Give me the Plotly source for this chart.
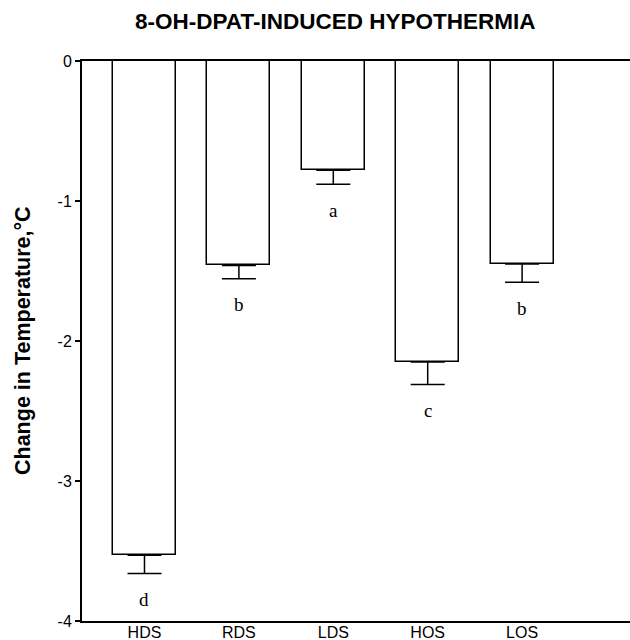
import plotly.graph_objects as go

categories = ["HDS", "RDS", "LDS", "HOS", "LOS"]
means = [-3.53, -1.46, -0.78, -2.15, -1.45]
sem = [0.13, 0.095, 0.10, 0.16, 0.13]
letters = ["d", "b", "a", "c", "b"]
ytick_vals = [0, -1, -2, -3, -4]
ytick_text = ["0", "-1", "-2", "-3", "-4"]

xpos = list(range(len(categories)))

fig = go.Figure()
fig.add_trace(go.Bar(
    x=xpos, y=means, width=0.667,
    marker=dict(color="white", line=dict(color="black", width=1.5)),
    error_y=dict(type="data", symmetric=False, array=[0] * len(sem),
                 arrayminus=sem, width=17, thickness=1.5, color="black"),
    showlegend=False, hoverinfo="skip",
))

for xi, m, e, lt in zip(xpos, means, sem, letters):
    fig.add_annotation(x=xi, y=m - e, text=lt, showarrow=False,
                       yanchor="middle", yshift=-26,
                       font=dict(family="Liberation Serif", size=19, color="black"))

fig.add_annotation(xref="paper", yref="paper", x=(23 - 82) / 548, y=0.5,
                   text="<b>Change in Temperature,°C</b>", textangle=-90,
                   showarrow=False, xanchor="center", yanchor="middle",
                   font=dict(family="Liberation Sans", size=21.5, color="black"))

fig.add_annotation(xref="paper", yref="paper", x=(335 - 82) / 548, y=1 + (61 - 21) / 560,
                   text="<b>8-OH-DPAT-INDUCED HYPOTHERMIA</b>",
                   showarrow=False, xanchor="center", yanchor="middle",
                   font=dict(family="Liberation Sans", size=22.5, color="black"))

fig.update_layout(
    width=630, height=640,
    margin=dict(l=82, r=0, t=61, b=19, pad=0, autoexpand=False),
    plot_bgcolor="white", paper_bgcolor="white",
    bargap=0,
)
fig.update_xaxes(range=[-0.662, 5.143], tickvals=xpos, ticktext=categories,
                 showline=True, linewidth=2, linecolor="black", mirror=True,
                 ticks="", showgrid=False, zeroline=False, automargin=False,
                 ticklabelstandoff=-4,
                 tickfont=dict(family="Liberation Sans", size=16, color="black"))
fig.update_yaxes(range=[-4, 0], tickvals=ytick_vals, ticktext=ytick_text,
                 showline=True, linewidth=2, linecolor="black", automargin=False,
                 ticks="outside", ticklen=5, tickwidth=1.5, tickcolor="black",
                 showgrid=False, zeroline=False,
                 tickfont=dict(family="Liberation Sans", size=16, color="black"))

fig.write_html("out.html", config={"displayModeBar": False},
               post_script="document.body.style.margin='0';")
